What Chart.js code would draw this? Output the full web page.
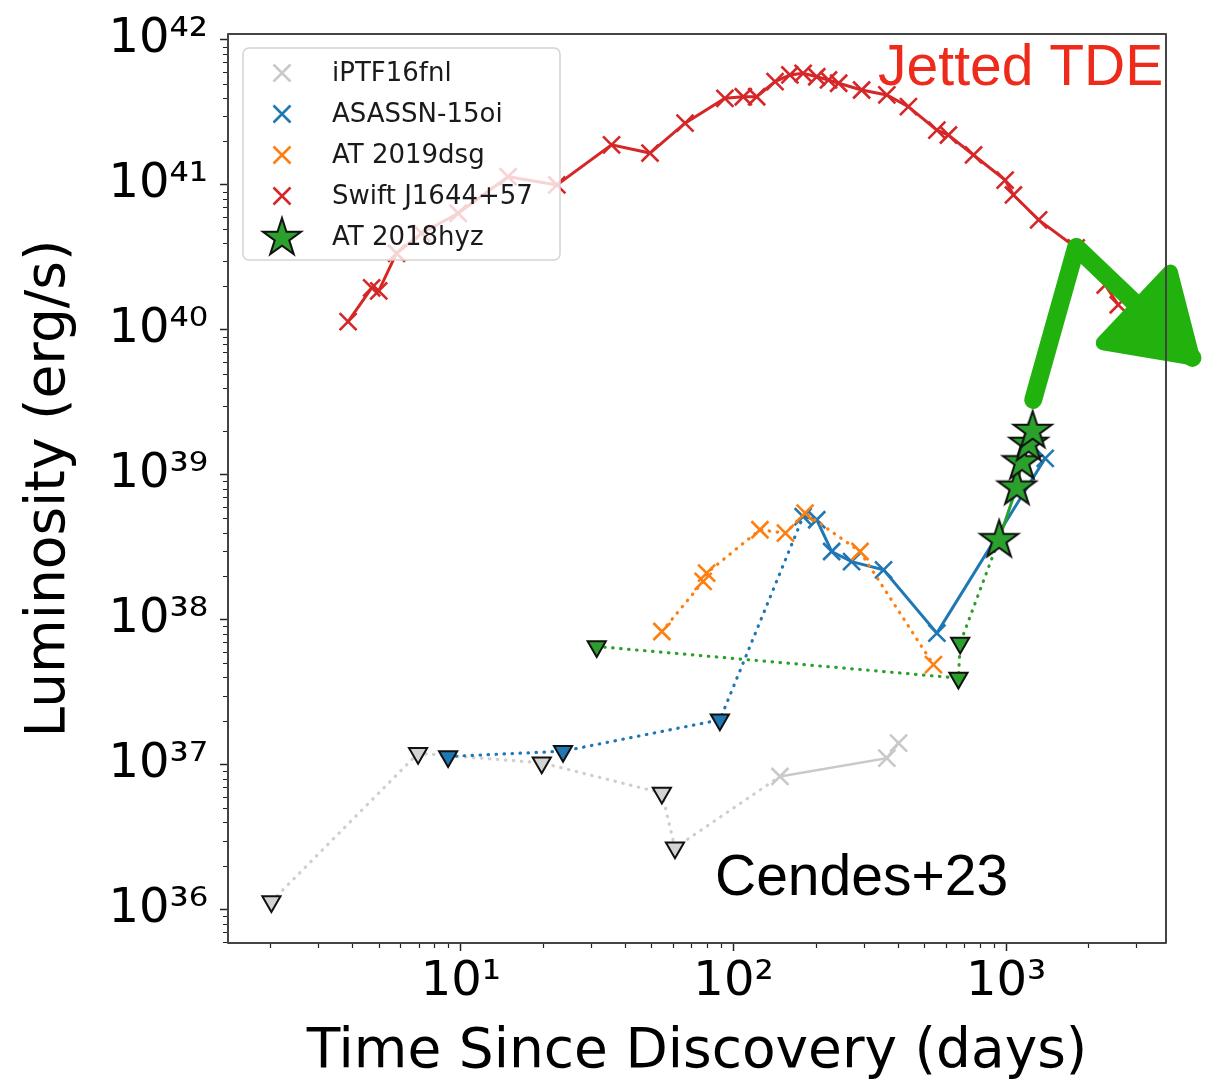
<!DOCTYPE html>
<html>
<head>
<meta charset="utf-8">
<script src="https://cdn.jsdelivr.net/npm/chart.js@4.4.1/dist/chart.umd.min.js"></script>
<style>
  html, body { margin: 0; padding: 0; background: #fff; }
  #chart { display: block; }
</style>
</head>
<body>
<canvas id="chart" width="1211" height="1085"></canvas>
<script>
// --- données : jours depuis la découverte / luminosité radio (erg/s) ---
const iptfDays  = [2.02, 6.97, 19.8, 54.6, 61.0, 148, 365, 403];
const iptfLum   = [1.14e36, 1.20e37, 1.03e37, 6.38e36, 2.67e36, 8.30e36, 1.11e37, 1.41e37];
const iptfLimit = [true, true, true, true, true, false, false, false];

const asassnDays  = [8.98, 23.7, 89.1, 180, 202, 229, 271, 355, 557, 1390];
const asassnLum   = [1.14e37, 1.24e37, 2.04e37, 5.15e38, 4.90e38, 2.96e38, 2.52e38, 2.21e38, 8.09e37, 1.30e39];
const asassnLimit = [true, true, true, false, false, false, false, false, false, false];

const dsgDays = [54.6, 77.4, 79.7, 125, 155, 183, 291, 541];
const dsgLum  = [8.30e37, 1.84e38, 2.10e38, 4.18e38, 3.96e38, 5.45e38, 2.96e38, 4.90e37];

const swiftDays = [3.86, 4.71, 5.0, 5.81, 7.18, 9.78, 14.9, 22.5, 35.7, 49.4,
                   66.4, 93.0, 108.6, 121.6, 142, 161, 180, 202, 223, 243,
                   295, 365, 438, 557, 614, 759, 991, 1063, 1315, 1807, 2307, 2576];
const swiftLum  = [1.14e40, 1.95e40, 1.86e40, 3.38e40, 4.64e40, 6.38e40, 1.14e41, 1.0e41, 1.89e41, 1.66e41,
                   2.67e41, 3.96e41, 4.06e41, 4.06e41, 5.16e41, 5.74e41, 5.89e41, 5.58e41, 5.30e41, 5.03e41,
                   4.52e41, 4.18e41, 3.47e41, 2.39e41, 2.21e41, 1.61e41, 1.08e41, 8.53e40, 5.74e40, 3.68e40, 2.04e40, 1.49e40];

const hyzDays  = [31.5, 668, 678, 942, 1094, 1142, 1208, 1250];
const hyzLum   = [6.54e37, 3.96e37, 6.91e37, 3.60e38, 8.30e38, 1.24e39, 1.66e39, 2.04e39];
const hyzLimit = [true, true, true, false, false, false, false, false];

// --- axes ---
const xRange = [1.40, 3855];
const yRange = [5.89e35, 1.10e42];
const xTitle = 'Time Since Discovery (days)';
const yTitle = 'Luminosity (erg/s)';
const legendOrder = ['iPTF16fnl', 'ASASSN-15oi', 'AT 2019dsg', 'Swift J1644+57', 'AT 2018hyz'];

// --- annotations (coordonnées données) ---
const notes = [
  { text: 'Jetted TDE', x: 339, y: 4.9e41, color: '#ee2a1a', font: '57px "Liberation Sans", Arial, sans-serif' },
  { text: 'Cendes+23', x: 85.5, y: 1.26e36, color: '#000', font: '57px "Liberation Sans", Arial, sans-serif' }
];
const arrowShaft = [[1256, 3.29e39], [1806, 3.73e40], [4820, 6.41e39]];
const arrowHead  = [[3999, 2.51e40], [4820, 6.41e39], [2270, 8.13e39]];

const SUP = {'0':'⁰','1':'¹','2':'²','3':'³','4':'⁴','5':'⁵','6':'⁶','7':'⁷','8':'⁸','9':'⁹'};
const DOT = [0.5, 7.5];

function supLabel(v) {
  const e = String(Math.round(Math.log10(v)));
  return '10' + e.split('').map(c => SUP[c]).join('');
}

function logTicks(min, max) {
  const out = [];
  for (let e = Math.floor(Math.log10(min)); e <= Math.ceil(Math.log10(max)); e++) {
    for (let m = 1; m <= 9; m++) {
      const v = m * Math.pow(10, e);
      if (v >= min && v <= max) out.push({ value: v, major: m === 1 });
    }
  }
  return out;
}

// étoile verte (marqueur '*' façon matplotlib)
function makeStar(R) {
  const c = document.createElement('canvas');
  const s = Math.ceil(R * 2 + 6);
  c.width = s; c.height = s;
  const g = c.getContext('2d');
  const r = R * 0.382;
  g.beginPath();
  for (let k = 0; k < 10; k++) {
    const a = -Math.PI / 2 + k * Math.PI / 5;
    const rr = k % 2 === 0 ? R : r;
    const px = s / 2 + rr * Math.cos(a), py = s / 2 + rr * Math.sin(a) + 1;
    k === 0 ? g.moveTo(px, py) : g.lineTo(px, py);
  }
  g.closePath();
  g.fillStyle = '#2ca02c';
  g.fill();
  g.lineWidth = 2;
  g.strokeStyle = '#111';
  g.stroke();
  return c;
}
const starImg = makeStar(20);

function pts(days, lum) { return days.map((d, i) => ({ x: d, y: lum[i] })); }

function series(label, days, lum, limits, color, opts) {
  const lim = i => limits ? limits[i] : false;
  const dotted = c => opts.allDotted || lim(c.p0DataIndex) || lim(c.p1DataIndex);
  return {
    label: label,
    order: opts.order,
    data: pts(days, lum),
    showLine: true,
    tension: 0,
    borderColor: color,
    borderWidth: opts.width || 3,
    pointStyle: c => lim(c.dataIndex) ? 'triangle' : (opts.star ? starImg : 'crossRot'),
    pointRotation: c => lim(c.dataIndex) ? 180 : 0,
    radius: c => lim(c.dataIndex) ? 10.5 : 12,
    pointBackgroundColor: c => lim(c.dataIndex) ? opts.limitFill : color,
    pointBorderColor: c => lim(c.dataIndex) ? '#111' : (opts.markColor || color),
    pointBorderWidth: c => lim(c.dataIndex) ? 2 : 2.6,
    segment: {
      borderColor: c => dotted(c) ? (opts.dotColor || color) : color,
      borderDash: c => dotted(c) ? DOT : [],
      borderCapStyle: c => dotted(c) ? 'round' : 'butt',
      borderWidth: c => dotted(c) ? 3.2 : (opts.width || 3)
    },
    legendStar: !!opts.star
  };
}

const datasets = [
  series('AT 2018hyz', hyzDays, hyzLum, hyzLimit, '#2ca02c', { order: 0, star: true, limitFill: '#2ca02c' }),
  series('Swift J1644+57', swiftDays, swiftLum, null, '#d62728', { order: 1 }),
  series('AT 2019dsg', dsgDays, dsgLum, null, '#ff7f0e', { order: 2, allDotted: true }),
  series('ASASSN-15oi', asassnDays, asassnLum, asassnLimit, '#1f77b4', { order: 3, limitFill: '#1f77b4' }),
  series('iPTF16fnl', iptfDays, iptfLum, iptfLimit, '#c9c9c9', { order: 4, limitFill: '#d3d3d3', dotColor: '#cfcfcf', width: 2.6 })
];

// --- légende dessinée dans la zone du graphique ---
const legendBox = {
  id: 'legendBox',
  afterDatasetsDraw(chart) {
    const { ctx, chartArea: a } = chart;
    const x0 = a.left + 15, y0 = a.top + 14, w = 317, h = 212, r = 6;
    ctx.save();
    ctx.beginPath();
    ctx.moveTo(x0 + r, y0);
    ctx.arcTo(x0 + w, y0, x0 + w, y0 + h, r);
    ctx.arcTo(x0 + w, y0 + h, x0, y0 + h, r);
    ctx.arcTo(x0, y0 + h, x0, y0, r);
    ctx.arcTo(x0, y0, x0 + w, y0, r);
    ctx.closePath();
    ctx.fillStyle = 'rgba(255,255,255,0.8)';
    ctx.fill();
    ctx.strokeStyle = '#d4d4d4';
    ctx.lineWidth = 1.5;
    ctx.stroke();

    ctx.font = '26px "DejaVu Sans"';
    ctx.textBaseline = 'middle';
    legendOrder.forEach((label, i) => {
      const ds = chart.data.datasets.find(d => d.label === label);
      const cy = y0 + 25 + i * 41;
      const mx = x0 + 39;
      if (ds.legendStar) {
        ctx.drawImage(starImg, mx - starImg.width / 2, cy - starImg.height / 2);
      } else {
        const hh = 8.5;
        ctx.strokeStyle = ds.borderColor;
        ctx.lineWidth = 2.6;
        ctx.beginPath();
        ctx.moveTo(mx - hh, cy - hh); ctx.lineTo(mx + hh, cy + hh);
        ctx.moveTo(mx + hh, cy - hh); ctx.lineTo(mx - hh, cy + hh);
        ctx.stroke();
      }
      ctx.fillStyle = '#1a1a1a';
      ctx.fillText(label, x0 + 89, cy + 1);
    });
    ctx.restore();
  }
};

// --- cadre, petites graduations, annotations ---
const decor = {
  id: 'decor',
  afterDraw(chart) {
    const { ctx, chartArea: a, scales: { x, y } } = chart;
    ctx.save();
    // petites graduations (2..9 x 10^n)
    ctx.strokeStyle = '#222';
    ctx.lineWidth = 1.2;
    ctx.beginPath();
    logTicks(xRange[0], xRange[1]).forEach(t => {
      if (t.major) return;
      const p = Math.round(x.getPixelForValue(t.value)) + 0.5;
      ctx.moveTo(p, a.bottom); ctx.lineTo(p, a.bottom + 5);
    });
    logTicks(yRange[0], yRange[1]).forEach(t => {
      if (t.major) return;
      const p = Math.round(y.getPixelForValue(t.value)) + 0.5;
      ctx.moveTo(a.left, p); ctx.lineTo(a.left - 5, p);
    });
    ctx.stroke();

    // textes
    notes.forEach(n => {
      ctx.font = n.font;
      ctx.fillStyle = n.color;
      ctx.textBaseline = 'alphabetic';
      ctx.textAlign = 'left';
      ctx.fillText(n.text, x.getPixelForValue(n.x), y.getPixelForValue(n.y));
    });

    // flèche verte
    const P = p => [x.getPixelForValue(p[0]), y.getPixelForValue(p[1])];
    ctx.strokeStyle = '#22b20e';
    ctx.fillStyle = '#22b20e';
    ctx.lineJoin = 'round';
    ctx.lineCap = 'round';
    ctx.lineWidth = 18;
    ctx.beginPath();
    arrowShaft.map(P).forEach((p, i) => i ? ctx.lineTo(p[0], p[1]) : ctx.moveTo(p[0], p[1]));
    ctx.stroke();
    ctx.lineWidth = 15;
    ctx.beginPath();
    arrowHead.map(P).forEach((p, i) => i ? ctx.lineTo(p[0], p[1]) : ctx.moveTo(p[0], p[1]));
    ctx.closePath();
    ctx.fill();
    ctx.stroke();

    // cadre
    ctx.strokeStyle = '#444';
    ctx.lineWidth = 2;
    ctx.strokeRect(a.left, a.top, a.right - a.left, a.bottom - a.top);
    ctx.restore();
  }
};

const tickFont = { family: 'DejaVu Sans', size: 48, lineHeight: 0.9 };
const titleFont = { family: 'DejaVu Sans', size: 55, lineHeight: 1 };

Chart.defaults.font.family = 'DejaVu Sans';

new Chart(document.getElementById('chart'), {
  type: 'scatter',
  data: { datasets: datasets },
  options: {
    responsive: false,
    animation: false,
    devicePixelRatio: 1,
    events: [],
    layout: { padding: { top: 34, right: 45, left: 0, bottom: 0 } },
    plugins: { legend: { display: false }, tooltip: { enabled: false } },
    scales: {
      x: {
        type: 'logarithmic',
        min: xRange[0], max: xRange[1],
        afterBuildTicks: s => { s.ticks = logTicks(xRange[0], xRange[1]); },
        afterFit: s => { s.height = 142; },
        border: { display: false },
        grid: { drawOnChartArea: false, drawTicks: true, tickLength: 8, tickWidth: 1.5, tickColor: '#222' },
        ticks: {
          autoSkip: false, maxRotation: 0, minRotation: 0, padding: 10,
          color: '#000', font: tickFont,
          // null = pas d'étiquette ni de trait (les petites graduations sont tracées à part)
          callback: (v, i, t) => t[i].major ? supLabel(v) : null
        },
        title: { display: true, text: xTitle, color: '#000', font: titleFont, padding: { top: 0, bottom: 5 } }
      },
      y: {
        type: 'logarithmic',
        min: yRange[0], max: yRange[1],
        afterBuildTicks: s => { s.ticks = logTicks(yRange[0], yRange[1]); },
        afterFit: s => { s.width = 228; },
        border: { display: false },
        grid: { drawOnChartArea: false, drawTicks: true, tickLength: 8, tickWidth: 1.5, tickColor: '#222' },
        ticks: {
          autoSkip: false, padding: 12,
          color: '#000', font: tickFont,
          callback: (v, i, t) => t[i].major ? supLabel(v) : null
        },
        title: { display: true, text: yTitle, color: '#000', font: titleFont, padding: { top: 22, bottom: 0 } }
      }
    }
  },
  plugins: [legendBox, decor]
});
</script>
</body>
</html>
